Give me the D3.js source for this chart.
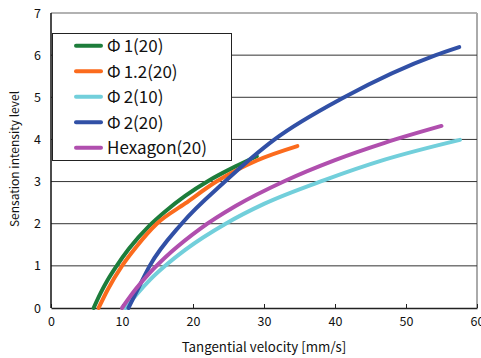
<!DOCTYPE html>
<html lang="en">
<head>
<meta charset="UTF-8">
<title>Sensation intensity</title>
<script src="https://cdn.jsdelivr.net/npm/d3@7"></script>
<style>
  body { margin: 0; background: #fff; }
  text { font-family: "Noto Sans CJK JP", "Noto Sans", sans-serif; fill: #111; }
</style>
</head>
<body>
<svg width="481" height="358" id="mainsvg"></svg>
<script>
// values: [velocity mm/s, level]
const phi1_20 = [[6.0,0],[7,0.36],[8,0.67],[9.25,1.0],[11,1.41],[13.9,1.96],[16,2.28],[18.9,2.66],[22.2,3.02],[26,3.36],[29,3.6]];
const phi12_20 = [[6.7,0],[8,0.44],[10,1.0],[12,1.45],[14.9,2.0],[18.9,2.48],[23.3,3.0],[29,3.5],[34.7,3.84]];
const phi2_10 = [[10.5,0],[12,0.31],[14,0.68],[16,0.99],[18.9,1.38],[24.6,2.0],[30,2.47],[38.6,3.04],[47,3.52],[57.6,3.99]];
const phi2_20 = [[10.9,0],[12,0.37],[13.9,1.0],[18.4,2.0],[24.5,3.0],[31.5,4.0],[41.3,5.0],[54.2,6.0],[57.5,6.19]];
const hexagon_20 = [[10,0],[12,0.46],[14,0.85],[17,1.34],[21,1.88],[26,2.42],[33,3.02],[40,3.51],[47,3.92],[55,4.32]];

const seriesNames = ['1(20)', '1.2(20)', '2(10)', '2(20)', 'Hexagon(20)'];
const seriesPhi = [true, true, true, true, false];
const seriesData = [phi1_20, phi12_20, phi2_10, phi2_20, hexagon_20];
const colors = ['#1d7d3b', '#fb6b1d', '#72cfdb', '#3150a6', '#b04fae'];
const xTicks = [0, 10, 20, 30, 40, 50, 60];
const yTicks = [0, 1, 2, 3, 4, 5, 6, 7];

const svg = d3.select('#mainsvg');
const margin = {top: 13, right: 4, bottom: 50, left: 51};
const innerWidth = 481 - margin.left - margin.right;
const innerHeight = 358 - margin.top - margin.bottom;
const g = svg.append('g').attr('transform', `translate(${margin.left},${margin.top})`);

const x = d3.scaleLinear().domain([0, 60]).range([0, innerWidth]);
const y = d3.scaleLinear().domain([0, 7]).range([innerHeight, 0]);

// plot frame (top / right are grey)
g.append('line').attr('x1', 0).attr('x2', innerWidth).attr('y1', 0).attr('y2', 0)
  .attr('stroke', '#999').attr('stroke-width', 1.5);
g.append('line').attr('x1', innerWidth).attr('x2', innerWidth).attr('y1', 0).attr('y2', innerHeight)
  .attr('stroke', '#aaa').attr('stroke-width', 2);

// gridlines + y labels
const yAxis = g.append('g')
  .call(d3.axisLeft(y).tickValues(yTicks).tickFormat(d3.format('d')).tickSize(0).tickPadding(10));
yAxis.select('.domain').remove();
yAxis.selectAll('text').attr('font-size', 12.5).style('font-family', '"Noto Sans CJK JP", sans-serif');
g.append('g').selectAll('line').data(yTicks.filter(d => d > 0 && d < 7)).enter()
  .append('line')
  .attr('x1', 0).attr('x2', innerWidth)
  .attr('y1', d => y(d)).attr('y2', d => y(d))
  .attr('stroke', '#333').attr('stroke-width', 1);

// x axis, ticks point up
const xAxis = g.append('g').attr('transform', `translate(0,${innerHeight})`)
  .call(d3.axisBottom(x).tickValues(xTicks).tickSizeInner(-4).tickSizeOuter(0).tickPadding(9));
xAxis.select('.domain').attr('stroke', '#222').attr('stroke-width', 1.5);
xAxis.selectAll('line').attr('stroke', '#222');
xAxis.selectAll('text').attr('font-size', 12.5).style('font-family', '"Noto Sans CJK JP", sans-serif');

g.append('line').attr('x1', 0).attr('x2', 0).attr('y1', 0).attr('y2', innerHeight)
  .attr('stroke', '#111').attr('stroke-width', 1.5);

// curves
const line = d3.line()
  .x(d => x(d[0]))
  .y(d => y(d[1]))
  .curve(d3.curveMonotoneX);
g.selectAll('path.series').data(seriesData).enter()
  .append('path')
  .attr('class', 'series')
  .attr('d', line)
  .attr('fill', 'none')
  .attr('stroke', (d, i) => colors[i])
  .attr('stroke-width', 4)
  .attr('stroke-linecap', 'round');

// axis titles
svg.append('text').text('Tangential velocity [mm/s]')
  .attr('x', 264).attr('y', 352)
  .attr('text-anchor', 'middle').attr('font-size', 13.3);
svg.append('text').text('Sensation intensity level')
  .attr('transform', 'translate(19,159) rotate(-90)')
  .attr('text-anchor', 'middle').attr('font-size', 12);

// legend
const legend = svg.append('g');
legend.append('rect')
  .attr('x', 52.5).attr('y', 33.5).attr('width', 179).attr('height', 127)
  .attr('fill', '#fff').attr('stroke', '#222').attr('stroke-width', 1);
const items = legend.selectAll('g.item').data(seriesNames).enter()
  .append('g').attr('class', 'item')
  .attr('transform', (d, i) => `translate(0,${45.7 + i * 25.5})`);
items.append('line')
  .attr('x1', 76).attr('x2', 101).attr('y1', 0).attr('y2', 0)
  .attr('stroke', (d, i) => colors[i]).attr('stroke-width', 4).attr('stroke-linecap', 'round');
const labels = items.append('text')
  .attr('x', 107).attr('y', 6.5)
  .attr('font-size', 17);
labels.filter((d, i) => seriesPhi[i]).append('tspan').text('\u03a6');
labels.append('tspan')
  .attr('dx', (d, i) => seriesPhi[i] ? 3 : 0)
  .text(d => d);
</script>
</body>
</html>
